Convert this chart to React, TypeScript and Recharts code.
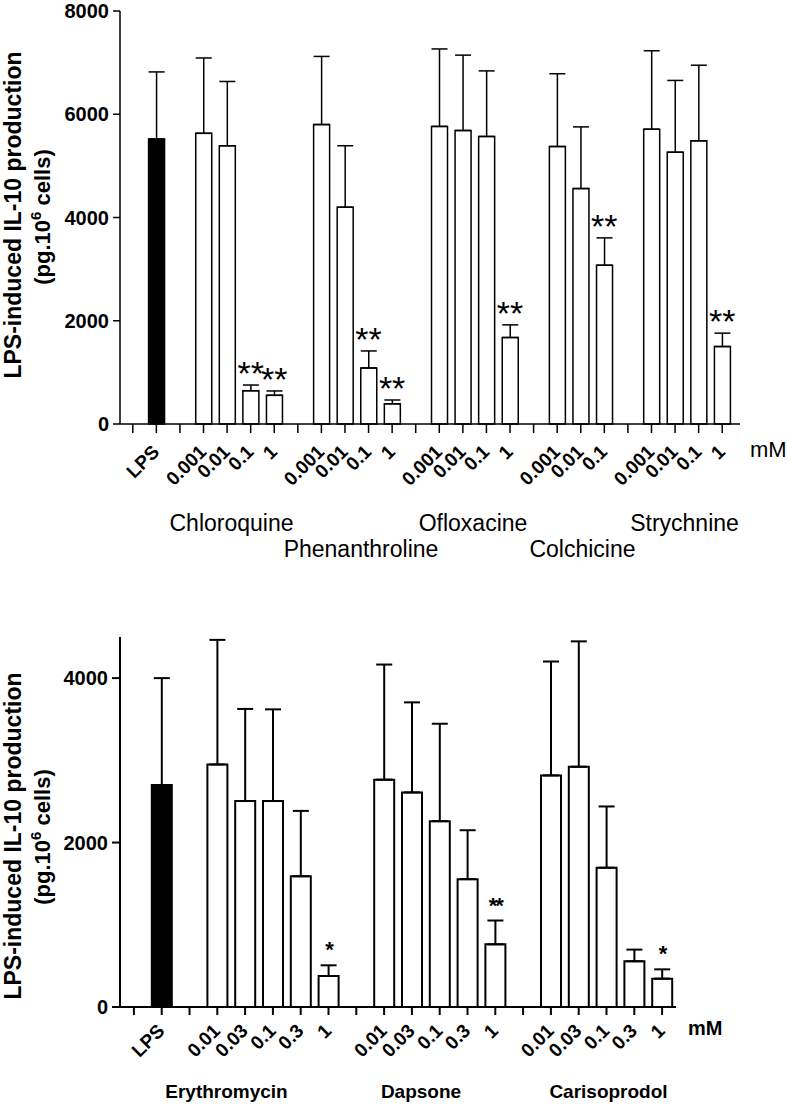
import React from 'react';
import { ComposedChart, Bar, Cell, ErrorBar, XAxis, YAxis, Line, LabelList } from 'recharts';

// ---------- Top panel data ----------
const topCategories = ['', 'LPS', '', '0.001', '0.01', '0.1', '1', '', '0.001', '0.01', '0.1', '1', '', '0.001', '0.01', '0.1', '1', '', '0.001', '0.01', '0.1', '', '0.001', '0.01', '0.1', '1'];
const topMeans = [null, 5520, null, 5630, 5390, 645, 555, null, 5800, 4200, 1085, 390, null, 5765, 5685, 5570, 1675, null, 5375, 4560, 3075, null, 5710, 5265, 5485, 1500];
const topErrors = [null, 1300, null, 1460, 1245, 110, 85, null, 1320, 1190, 330, 75, null, 1500, 1460, 1270, 245, null, 1410, 1195, 530, null, 1520, 1390, 1465, 260];
const topStars = ['', '', '', '', '', '**', '**', '', '', '', '**', '**', '', '', '', '', '**', '', '', '', '**', '', '', '', '', '**'];
const topYTicks = [0, 2000, 4000, 6000, 8000];
const topDrugs = ['Chloroquine', 'Phenanthroline', 'Ofloxacine', 'Colchicine', 'Strychnine'];

// ---------- Bottom panel data ----------
const bottomCategories = ['', 'LPS', '', '0.01', '0.03', '0.1', '0.3', '1', '', '0.01', '0.03', '0.1', '0.3', '1', '', '0.01', '0.03', '0.1', '0.3', '1'];
const bottomMeans = [null, 2700, null, 2950, 2505, 2505, 1590, 377, null, 2765, 2610, 2260, 1555, 762, null, 2817, 2922, 1694, 556, 345];
const bottomErrors = [null, 1300, null, 1515, 1120, 1115, 795, 130, null, 1400, 1095, 1185, 595, 290, null, 1385, 1525, 745, 142, 113];
const bottomStars = ['', '', '', '', '', '', '', '*', '', '', '', '', '', '**', '', '', '', '', '', '*'];
const bottomYTicks = [0, 2000, 4000];
const bottomDrugs = ['Erythromycin', 'Dapsone', 'Carisoprodol'];

const yLabelMain = 'LPS-induced IL-10 production';
const unitLabel = 'mM';

const FONT = '"Liberation Sans", Arial, Helvetica, sans-serif';

function buildRows(cats: string[], means: (number | null)[], errs: (number | null)[], stars: string[]) {
  return cats.map((c, i) => ({
    id: `c${i}`,
    value: means[i],
    err: errs[i] == null ? undefined : [0, errs[i] as number],
    starAt: stars[i] && means[i] != null ? (means[i] as number) + (errs[i] as number) : null,
    star: stars[i],
    control: c === 'LPS',
  }));
}

const topRows = buildRows(topCategories, topMeans, topErrors, topStars);
const bottomRows = buildRows(bottomCategories, bottomMeans, bottomErrors, bottomStars);

const makeTick = (labels: string[], fontSize: number, dx: number, dy: number) => (props: any) => {
  const { x, y, payload } = props;
  const idx = Number(String(payload.value).slice(1));
  const label = labels[idx];
  if (!label) return <g />;
  const ax = x + dx;
  const ay = y + dy;
  return (
    <text x={ax} y={ay} transform={`rotate(-45 ${ax} ${ay})`} textAnchor="end" fontSize={fontSize} fontWeight="bold" fontFamily={FONT} fill="#000">
      {label}
    </text>
  );
};

const makeStar = (fontSize: number, lift: number, spacing: number, weight: string) => (props: any) => {
  const { x, y, value } = props;
  if (!value || y == null || isNaN(y)) return null;
  return (
    <text x={x} y={y - lift} textAnchor="middle" fontSize={fontSize} fontWeight={weight} fontFamily={FONT} letterSpacing={spacing} fill="#000">
      {value}
    </text>
  );
};

export default function App() {
  return (
    <div style={{ position: 'absolute', left: 0, top: 0, width: 787, height: 1104, background: '#fff', fontFamily: FONT }}>
      {/* Top chart */}
      <div style={{ position: 'absolute', left: 0, top: 0 }}>
        <ComposedChart width={787} height={600} data={topRows} margin={{ top: 11, right: 47, bottom: 116, left: 60 }}>
          <XAxis
            dataKey="id"
            type="category"
            interval={0}
            padding={{ left: 1, right: 6 }}
            height={60}
            tickSize={9}
            tickMargin={2}
            axisLine={{ stroke: '#000', strokeWidth: 1.5 }}
            tickLine={{ stroke: '#000', strokeWidth: 1.5 }}
            tick={makeTick(topCategories, 19, 4, 18)}
          />
          <YAxis
            width={60}
            domain={[0, 8000]}
            ticks={topYTicks}
            interval={0}
            tickSize={7}
            tickMargin={4}
            axisLine={{ stroke: '#000', strokeWidth: 1.5 }}
            tickLine={{ stroke: '#000', strokeWidth: 1.5 }}
            tick={{ fill: '#000', fontSize: 20, fontWeight: 'bold', fontFamily: FONT }}
          />
          <Bar dataKey="value" barSize={16} isAnimationActive={false}>
            {topRows.map((r, i) => (
              <Cell key={i} fill={r.control ? '#000' : '#fff'} stroke="#000" strokeWidth={1.5} />
            ))}
            <ErrorBar dataKey="err" direction="y" width={8} stroke="#000" strokeWidth={1.5} isAnimationActive={false} />
          </Bar>
          <Line dataKey="starAt" stroke="none" dot={false} activeDot={false} isAnimationActive={false} legendType="none">
            <LabelList dataKey="star" content={makeStar(34, 0, 0, 'normal')} />
          </Line>
        </ComposedChart>
      </div>

      {/* Bottom chart */}
      <div style={{ position: 'absolute', left: 0, top: 580 }}>
        <ComposedChart width={787} height={524} data={bottomRows} margin={{ top: 57, right: 111, bottom: 57, left: 60 }}>
          <XAxis
            dataKey="id"
            type="category"
            interval={0}
            height={40}
            tickSize={8}
            tickMargin={2}
            axisLine={{ stroke: '#000', strokeWidth: 2 }}
            tickLine={{ stroke: '#000', strokeWidth: 2 }}
            tick={makeTick(bottomCategories, 19, 4, 15)}
          />
          <YAxis
            width={60}
            domain={[0, 4500]}
            ticks={bottomYTicks}
            interval={0}
            tickSize={8}
            tickMargin={4}
            axisLine={{ stroke: '#000', strokeWidth: 2 }}
            tickLine={{ stroke: '#000', strokeWidth: 2 }}
            tick={{ fill: '#000', fontSize: 20, fontWeight: 'bold', fontFamily: FONT }}
          />
          <Bar dataKey="value" barSize={20} isAnimationActive={false}>
            {bottomRows.map((r, i) => (
              <Cell key={i} fill={r.control ? '#000' : '#fff'} stroke="#000" strokeWidth={2} />
            ))}
            <ErrorBar dataKey="err" direction="y" width={8} stroke="#000" strokeWidth={2} isAnimationActive={false} />
          </Bar>
          <Line dataKey="starAt" stroke="none" dot={false} activeDot={false} isAnimationActive={false} legendType="none">
            <LabelList dataKey="star" content={makeStar(22, 8, -2, 'bold')} />
          </Line>
        </ComposedChart>
      </div>

      {/* Text overlay: axis titles, unit and drug group names */}
      <svg width={787} height={1104} style={{ position: 'absolute', left: 0, top: 0, pointerEvents: 'none' }} fontFamily={FONT} fill="#000">
        {/* top y title */}
        <text transform="translate(20.5,215) rotate(-90)" textAnchor="middle" fontSize={23} fontWeight="bold">{yLabelMain}</text>
        <text transform="translate(50,217) rotate(-90)" textAnchor="middle" fontSize={22} fontWeight="bold">
          (pg.10<tspan dy={-9} fontSize={15}>6</tspan><tspan dy={9}> cells)</tspan>
        </text>
        {/* bottom y title */}
        <text transform="translate(20.5,836) rotate(-90)" textAnchor="middle" fontSize={23} fontWeight="bold">{yLabelMain}</text>
        <text transform="translate(50,837) rotate(-90)" textAnchor="middle" fontSize={22} fontWeight="bold">
          (pg.10<tspan dy={-9} fontSize={15}>6</tspan><tspan dy={9}> cells)</tspan>
        </text>

        {/* top unit + drug names */}
        <text x={750} y={457} fontSize={22}>{unitLabel}</text>
        <text x={231.5} y={530.5} textAnchor="middle" fontSize={23}>{topDrugs[0]}</text>
        <text x={361} y={556.5} textAnchor="middle" fontSize={23}>{topDrugs[1]}</text>
        <text x={473} y={530.5} textAnchor="middle" fontSize={23}>{topDrugs[2]}</text>
        <text x={582.5} y={556.5} textAnchor="middle" fontSize={23}>{topDrugs[3]}</text>
        <text x={684.5} y={530.5} textAnchor="middle" fontSize={23}>{topDrugs[4]}</text>

        {/* bottom unit + drug names */}
        <text x={688} y={1035} fontSize={20} fontWeight="bold">{unitLabel}</text>
        <text x={226.5} y={1098} textAnchor="middle" fontSize={19} fontWeight="bold">{bottomDrugs[0]}</text>
        <text x={421} y={1098} textAnchor="middle" fontSize={19} fontWeight="bold">{bottomDrugs[1]}</text>
        <text x={608.5} y={1098} textAnchor="middle" fontSize={19} fontWeight="bold">{bottomDrugs[2]}</text>
      </svg>
    </div>
  );
}
